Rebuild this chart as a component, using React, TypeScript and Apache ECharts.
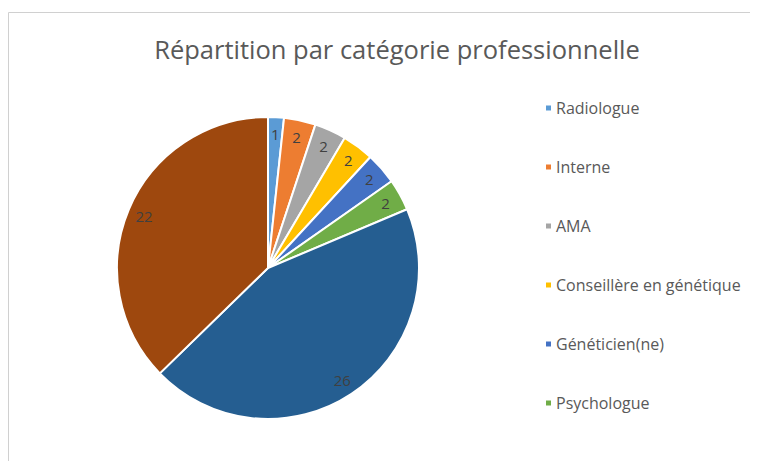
import React, { useEffect, useRef } from "react";
import * as echarts from "echarts";

const categories = [
  "Radiologue",
  "Interne",
  "AMA",
  "Conseillère en génétique",
  "Généticien(ne)",
  "Psychologue",
  "Manipulateur",
  "Secrétaire",
];
const values = [1, 2, 2, 2, 2, 2, 26, 22];
const colors = ["#5B9BD5", "#ED7D31", "#A5A5A5", "#FFC000", "#4472C4", "#70AD47", "#255E91", "#9E480E"];
const legendItems = categories.slice(0, 6);
const title = "Répartition par catégorie professionnelle";

export default function App() {
  const ref = useRef<HTMLDivElement>(null);
  useEffect(() => {
    if (!ref.current) return;
    const chart = echarts.init(ref.current, null, { renderer: "svg" });
    const data = categories.map((name, i) => ({ name, value: values[i], itemStyle: { color: colors[i] } }));
    const labelData = categories.map((name, i) => ({ name, value: values[i] }));
    const font = "'Open Sans', sans-serif";
    chart.setOption({
      animation: false,
      color: colors,
      title: {
        text: title,
        left: 384,
        textAlign: "center",
        top: 23,
        textStyle: { fontFamily: font, fontSize: 25.5, fontWeight: "normal", color: "#595959" },
      },
      legend: {
        data: legendItems,
        orient: "vertical",
        left: 531,
        top: 87,
        icon: "rect",
        itemWidth: 7,
        itemHeight: 7,
        itemGap: 43,
        textStyle: { fontFamily: font, fontSize: 16, color: "#595959", lineHeight: 16, padding: [0, 0, 0, -1] },
        selectedMode: false,
      },
      graphic: [
        {
          type: "rect",
          shape: { x: 0.5, y: 4.5, width: 900, height: 600 },
          style: { fill: "none", stroke: "#d0d0d0", lineWidth: 1 },
          silent: true,
        },
      ],
      series: [
        {
          type: "pie",
          center: [260, 260],
          radius: [0, 151],
          startAngle: 90,
          clockwise: true,
          data,
          label: { show: false },
          labelLine: { show: false },
          itemStyle: { borderColor: "#ffffff", borderWidth: 2 },
          emphasis: { disabled: true },
        },
        {
          type: "pie",
          center: [260, 260],
          radius: [112, 151],
          startAngle: 90,
          clockwise: true,
          data: labelData,
          silent: true,
          legendHoverLink: false,
          itemStyle: { color: "rgba(0,0,0,0)", borderWidth: 0 },
          label: {
            show: true,
            position: "inside",
            formatter: "{c}",
            fontFamily: font,
            fontSize: 15,
            color: "#404040",
          },
          labelLine: { show: false },
          emphasis: { disabled: true },
        },
      ],
    });
    return () => chart.dispose();
  }, []);
  return <div ref={ref} style={{ width: 750, height: 453 }} />;
}
